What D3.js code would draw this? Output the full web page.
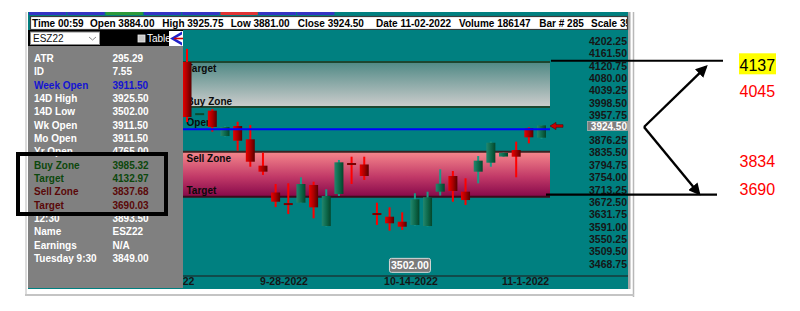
<!DOCTYPE html>
<html>
<head>
<meta charset="utf-8">
<script src="https://cdn.jsdelivr.net/npm/d3@7"></script>
<style>
  body { margin: 0; background: #fff; }
  svg { display: block; font-family: "Liberation Sans", Arial, sans-serif; }
</style>
</head>
<body>
<svg id="chart" width="800" height="311"></svg>
<script>
'use strict';

// candles, oldest first (ESZ22 daily)
const opens  = [4133, 3960, 3973, 3889.5, 3922.5, 3878.75, 3792, 3703.75, 3667, 3670.25, 3728.5, 3593.5, 3699, 3799, 3796, 3634.5, 3624.25, 3607.75, 3597, 3593.5, 3706.5, 3758, 3706.5, 3772.25, 3801.75, 3822, 3843.5, 3915, 3884];
const highs  = [4176, 3964, 3978.5, 3921, 3936.5, 3925.75, 3834.75, 3731.75, 3734, 3753.75, 3739.25, 3714.25, 3810.75, 3821.5, 3821.5, 3670.25, 3655, 3638.75, 3701.25, 3706.5, 3780, 3774.5, 3750.5, 3823.75, 3871, 3835, 3871, 3918.25, 3925.75];
const lows   = [3935.5, 3959, 3903.75, 3888, 3841.25, 3788.5, 3761.5, 3656, 3633, 3669, 3619, 3592, 3692.25, 3731.75, 3745, 3597, 3578.25, 3580.5, 3595, 3592, 3694, 3673.5, 3662.75, 3734, 3788.5, 3821.5, 3753.75, 3865.5, 3881];
const closes = [3952, 3963, 3919.25, 3919.25, 3874, 3805, 3772.25, 3673.5, 3664.5, 3731.75, 3655, 3692.25, 3803, 3796, 3758, 3631.5, 3602.5, 3591.25, 3681.5, 3688, 3732.75, 3708.75, 3679, 3808.5, 3867.5, 3834, 3821.5, 3885.25, 3924.5];

const priceTicks = [4202.25, 4161.50, 4120.75, 4080.00, 4039.25, 3998.50, 3957.75, 3876.25, 3835.50, 3794.75, 3754.00, 3713.25, 3672.50, 3631.75, 3591.00, 3550.25, 3509.50, 3468.75];
const dateLabels = ['9-12-2022', '9-28-2022', '10-14-2022', '11-1-2022'];
const dateIdx = [-1.35, 7.62, 17.65, 26.7];

const buyTarget = 4132.97, buyZone = 3985.32, sellZone = 3837.68, sellTarget = 3690.03;
const weekOpen = 3911.50, lastClose = 3924.50, lowMark = 3502.00;

const infoFields = ['Time 00:59', 'Open 3884.00', 'High 3925.75', 'Low 3881.00', 'Close 3924.50', 'Date 11-02-2022', 'Volume 186147', 'Bar # 285', 'Scale 35'];
const infoX = [32, 90, 162.3, 230.7, 297.7, 376, 459, 539.3, 591];

const panelLabels = ['ATR', 'ID', 'Week Open', '14D High', '14D Low', 'Wk Open', 'Mo Open', 'Yr Open', 'Buy Zone', 'Target', 'Sell Zone', 'Target', '12:30', 'Name', 'Earnings', 'Tuesday 9:30'];
const panelValues = ['295.29', '7.55', '3911.50', '3925.50', '3502.00', '3911.50', '3911.50', '4765.00', '3985.32', '4132.97', '3837.68', '3690.03', '3893.50', 'ESZ22', 'N/A', '3849.00'];
const panelKinds  = ['w', 'w', 'b', 'w', 'w', 'w', 'w', 'w', 'g', 'g', 'r', 'r', 'w', 'w', 'w', 'w'];

const noteValues = ['4137', '4045', '3834', '3690'];
const noteLines = [4137, 3690];

// ---- layout ----
const svg = d3.select('#chart');
const plot = { left: 183, right: 628, top: 30, bottom: 276 };
const x = d3.scaleLinear().domain([0, 28]).range([187, 541.5]);
const y = d3.scaleLinear().domain([3429.2, 4238.2]).range([plot.bottom, plot.top]);
const kindColor = { w: '#ffffff', b: '#1414d2', g: '#0c480c', r: '#5a0808' };
const bodyW = 9;
const zoneRight = x(28) + 8.5;
const fmt = d3.format('.2f');

const defs = svg.append('defs');
function grad(id, stops, horiz) {
    const g = defs.append('linearGradient').attr('id', id)
        .attr('x1', 0).attr('y1', 0).attr('x2', horiz ? 1 : 0).attr('y2', horiz ? 0 : 1);
    stops.forEach(function(s) { g.append('stop').attr('offset', s[0]).attr('stop-color', s[1]); });
}
grad('buyFill', [[0, '#4f8985'], [1, '#cdcdcd']]);
grad('sellFill', [[0, '#f6888c'], [0.55, '#c23a68'], [1, '#86084a']]);
grad('redBody', [[0, '#ea0000'], [0.5, '#aa0000'], [1, '#560000']], true);
grad('greenBody', [[0, '#23876e'], [0.5, '#0e6a4c'], [1, '#04452a']], true);
defs.append('clipPath').attr('id', 'plotClip').append('rect')
    .attr('x', plot.left).attr('y', plot.top).attr('width', plot.right - plot.left).attr('height', 260);
defs.append('clipPath').attr('id', 'infoClip').append('rect')
    .attr('x', 30).attr('y', 16).attr('width', 597).attr('height', 14);
defs.append('marker').attr('id', 'arrowHead').attr('viewBox', '0 0 10 10')
    .attr('refX', 8).attr('refY', 5).attr('markerWidth', 5).attr('markerHeight', 5)
    .attr('orient', 'auto')
    .append('path').attr('d', 'M0,0 L10,5 L0,10 z').attr('fill', '#000');

// frame pieces
svg.append('line').attr('x1', 26).attr('x2', 26).attr('y1', 12).attr('y2', 296)
    .attr('stroke', '#d0d0d0').attr('stroke-width', 1.5);
svg.append('line').attr('x1', 633.5).attr('x2', 633.5).attr('y1', 12).attr('y2', 297)
    .attr('stroke', '#b8b8b8').attr('stroke-width', 1.5);
svg.append('line').attr('x1', 25).attr('x2', 634).attr('y1', 295).attr('y2', 295)
    .attr('stroke', '#c4c4c4').attr('stroke-width', 2);
svg.append('rect').attr('x', 28).attr('y', 12).attr('width', 602).attr('height', 277).attr('fill', '#008080');
svg.append('rect').attr('x', 628).attr('y', 12).attr('width', 2.5).attr('height', 277).attr('fill', '#a8a8a8');

// tab strip
const tabColors = ['#3434c4', '#3434c4', '#2c9a3a', '#3434c4', '#3434c4', '#e03434', '#3434c4', '#3434c4'];
svg.append('g').selectAll('rect').data(tabColors).enter().append('rect')
    .attr('x', function(d, i) { return 29 + i * 38.3; })
    .attr('y', 12).attr('width', 37.3).attr('height', 3)
    .attr('fill', function(d) { return d; });

// info bar
svg.append('rect').attr('x', 30.5).attr('y', 16.5).attr('width', 597).attr('height', 13)
    .attr('fill', '#fff').attr('stroke', '#3c3c3c').attr('stroke-width', 1.2);
svg.append('g').attr('clip-path', 'url(#infoClip)').selectAll('text').data(infoFields).enter().append('text')
    .attr('x', function(d, i) { return infoX[i]; }).attr('y', 26.6)
    .attr('font-size', 10).attr('font-weight', 'bold').attr('fill', '#000')
    .text(function(d) { return d; });

// left panel
svg.append('rect').attr('x', 28).attr('y', 30).attr('width', 155).attr('height', 258).attr('fill', '#808080');
svg.append('rect').attr('x', 28).attr('y', 30).attr('width', 155).attr('height', 16).attr('fill', '#000');
svg.append('rect').attr('x', 30.5).attr('y', 32).attr('width', 69).attr('height', 12.5)
    .attr('fill', '#fff').attr('stroke', '#8a8a8a');
svg.append('text').attr('x', 33).attr('y', 42.3).attr('font-size', 10).attr('fill', '#111').text('ESZ22');
svg.append('path').attr('d', 'M89,37 L92.5,40 L96,37').attr('fill', 'none').attr('stroke', '#888').attr('stroke-width', 1);
svg.append('rect').attr('x', 138).attr('y', 35).attr('width', 7).attr('height', 7)
    .attr('fill', '#c8c8c8').attr('stroke', '#eee').attr('stroke-width', 0.8);
svg.append('text').attr('x', 147).attr('y', 42.3).attr('font-size', 10).attr('fill', '#fff').text('Table');
svg.append('rect').attr('x', 169).attr('y', 31).attr('width', 14).attr('height', 15).attr('fill', '#fff');
svg.append('path').attr('d', 'M170,38.5 L182,31.5 L182,34.5 L175,38.5 L182,42.5 L182,45.5 Z').attr('fill', '#2020c8');
svg.append('path').attr('d', 'M174,38.5 L183,38.5').attr('stroke', '#d00000').attr('stroke-width', 1.6);

const rows = svg.append('g').selectAll('g').data(panelLabels).enter().append('g')
    .attr('transform', function(d, i) { return 'translate(0,' + (62 + i * 13.33) + ')'; })
    .attr('font-size', 10).attr('font-weight', 'bold');
rows.append('text').attr('x', 34)
    .attr('fill', function(d, i) { return kindColor[panelKinds[i]]; })
    .text(function(d) { return d; });
rows.append('text').attr('x', 112.5)
    .attr('fill', function(d, i) { return kindColor[panelKinds[i]]; })
    .text(function(d, i) { return panelValues[i]; });

// plot area
const plotG = svg.append('g').attr('clip-path', 'url(#plotClip)');
plotG.append('rect').attr('x', plot.left).attr('y', plot.top)
    .attr('width', plot.right - plot.left).attr('height', plot.bottom - plot.top).attr('fill', '#008080');

// zones
plotG.append('rect').attr('x', plot.left).attr('y', y(buyTarget))
    .attr('width', zoneRight - plot.left).attr('height', y(buyZone) - y(buyTarget)).attr('fill', 'url(#buyFill)');
plotG.append('rect').attr('x', plot.left).attr('y', y(sellZone))
    .attr('width', zoneRight - plot.left).attr('height', y(sellTarget) - y(sellZone)).attr('fill', 'url(#sellFill)');
[[buyTarget, '#1d4630'], [buyZone, '#1d4630'], [sellZone, '#3c2222'], [sellTarget, '#3a0c1c']].forEach(function(l) {
    plotG.append('line').attr('x1', plot.left).attr('x2', zoneRight)
        .attr('y1', y(l[0])).attr('y2', y(l[0])).attr('stroke', l[1]).attr('stroke-width', 2);
});
const zoneText = [['Target', y(buyTarget) + 10.5], ['Buy Zone', y(buyZone) - 2], ['Open', y(weekOpen) - 3.5],
                  ['Sell Zone', y(sellZone) + 10.5], ['Target', y(sellTarget) - 2.5]];
plotG.append('g').selectAll('text').data(zoneText).enter().append('text')
    .attr('x', 186.5).attr('y', function(d) { return d[1]; })
    .attr('font-size', 10).attr('font-weight', 'bold').attr('fill', '#0a0a0a')
    .text(function(d) { return d[0]; });

// candles
const candles = plotG.append('g').selectAll('g').data(closes).enter().append('g');
candles.append('rect')
    .attr('x', function(d, i) { return x(i) - 1; })
    .attr('y', function(d, i) { return y(highs[i]); })
    .attr('width', 2)
    .attr('height', function(d, i) { return Math.max(1, y(lows[i]) - y(highs[i])); })
    .attr('fill', function(d, i) { return d >= opens[i] ? '#1b9a86' : '#ff0000'; });
candles.append('rect')
    .attr('x', function(d, i) { return x(i) - bodyW / 2; })
    .attr('y', function(d, i) {
        const h = Math.abs(y(d) - y(opens[i]));
        return h < 1.5 ? (y(d) + y(opens[i])) / 2 - 1 : Math.min(y(d), y(opens[i]));
    })
    .attr('width', bodyW)
    .attr('height', function(d, i) { return Math.max(2, Math.abs(y(d) - y(opens[i]))); })
    .attr('fill', function(d, i) {
        const up = d >= opens[i];
        if (Math.abs(y(d) - y(opens[i])) < 1.5) return up ? '#0b4a2e' : '#7a0000';
        return up ? 'url(#greenBody)' : 'url(#redBody)';
    });

// week open line
plotG.append('line').attr('x1', plot.left).attr('x2', zoneRight)
    .attr('y1', y(weekOpen)).attr('y2', y(weekOpen)).attr('stroke', '#0000ff').attr('stroke-width', 2);

// last price arrow
const ay = y(lastClose) + 0.6, ax = zoneRight;
svg.append('path')
    .attr('d', 'M' + ax + ',' + ay + ' l6,-3.6 v2.3 h7 v2.6 h-7 v2.3 z')
    .attr('fill', '#cc0000').attr('stroke', '#5a0000').attr('stroke-width', 0.6);

// price axis
const yAxis = svg.append('g').attr('transform', 'translate(630,0)')
    .call(d3.axisLeft(y).tickValues(priceTicks).tickSize(0).tickPadding(3).tickFormat(fmt));
yAxis.select('.domain').remove();
yAxis.selectAll('text').attr('font-size', 10.5).attr('font-weight', 'bold')
    .attr('font-family', '"Liberation Sans", Arial, sans-serif').attr('fill', '#161616');

svg.append('rect').attr('x', 587.5).attr('y', y(lastClose) - 3.8).attr('width', 40).attr('height', 9)
    .attr('fill', '#7e7e7e').attr('stroke', '#b0b0b0').attr('stroke-width', 0.8);
svg.append('text').attr('x', 627).attr('y', y(lastClose) + 4.6).attr('text-anchor', 'end')
    .attr('font-size', 10).attr('font-weight', 'bold').attr('fill', '#fff').text(fmt(lastClose));

// date axis
svg.append('line').attr('x1', plot.left).attr('x2', plot.right).attr('y1', plot.bottom).attr('y2', plot.bottom)
    .attr('stroke', '#173a3a').attr('stroke-width', 1.6);
const xAxis = svg.append('g').attr('clip-path', 'url(#plotClip)')
    .append('g').attr('transform', 'translate(0,' + plot.bottom + ')')
    .call(d3.axisBottom(x).tickValues(dateIdx).tickSize(0).tickPadding(2)
        .tickFormat(function(d, i) { return dateLabels[i]; }));
xAxis.select('.domain').remove();
xAxis.selectAll('text').attr('font-size', 10.5).attr('font-weight', 'bold')
    .attr('font-family', '"Liberation Sans", Arial, sans-serif').attr('fill', '#161616');

// 14D low tag
const lowX = x(17.61);
svg.append('rect').attr('x', lowX - 20.5).attr('y', y(lowMark) + 4.5).attr('width', 41).attr('height', 14).attr('rx', 2)
    .attr('fill', '#7a7a7a').attr('stroke', '#d8d8d8').attr('stroke-width', 1);
svg.append('text').attr('x', lowX).attr('y', y(lowMark) + 15.3).attr('text-anchor', 'middle')
    .attr('font-size', 10.5).attr('font-weight', 'bold').attr('fill', '#fff').text(fmt(lowMark));

// annotation box on the panel
svg.append('rect').attr('x', 18).attr('y', 154).attr('width', 148).attr('height', 60)
    .attr('fill', 'none').attr('stroke', '#000').attr('stroke-width', 4);

// hand annotations on the right
svg.append('line').attr('x1', 551).attr('x2', 723).attr('y1', y(noteLines[0])).attr('y2', y(noteLines[0]))
    .attr('stroke', '#000').attr('stroke-width', 2.2);
svg.append('line').attr('x1', 546).attr('x2', 717).attr('y1', y(noteLines[1]) - 2).attr('y2', y(noteLines[1]) - 2)
    .attr('stroke', '#000').attr('stroke-width', 2.2);
const vx = 644, vy = y(lastClose) + 1.6;
svg.append('path').attr('d', 'M' + vx + ',' + vy + ' L706,' + (y(noteLines[0]) + 6))
    .attr('stroke', '#000').attr('stroke-width', 2.4).attr('marker-end', 'url(#arrowHead)');
svg.append('path').attr('d', 'M' + vx + ',' + vy + ' L699,' + (y(noteLines[1]) - 3))
    .attr('stroke', '#000').attr('stroke-width', 2.4).attr('marker-end', 'url(#arrowHead)');

const noteY = [70.7, 97.3, 166.7, 195];
svg.append('rect').attr('x', 739).attr('y', 53.3).attr('width', 37).attr('height', 21).attr('fill', '#ffff00');
svg.append('g').selectAll('text').data(noteValues).enter().append('text')
    .attr('x', 739.5).attr('y', function(d, i) { return noteY[i]; })
    .attr('font-size', 16).attr('fill', function(d, i) { return i === 0 ? '#000' : '#ff0000'; })
    .text(function(d) { return d; });
</script>
</body>
</html>
